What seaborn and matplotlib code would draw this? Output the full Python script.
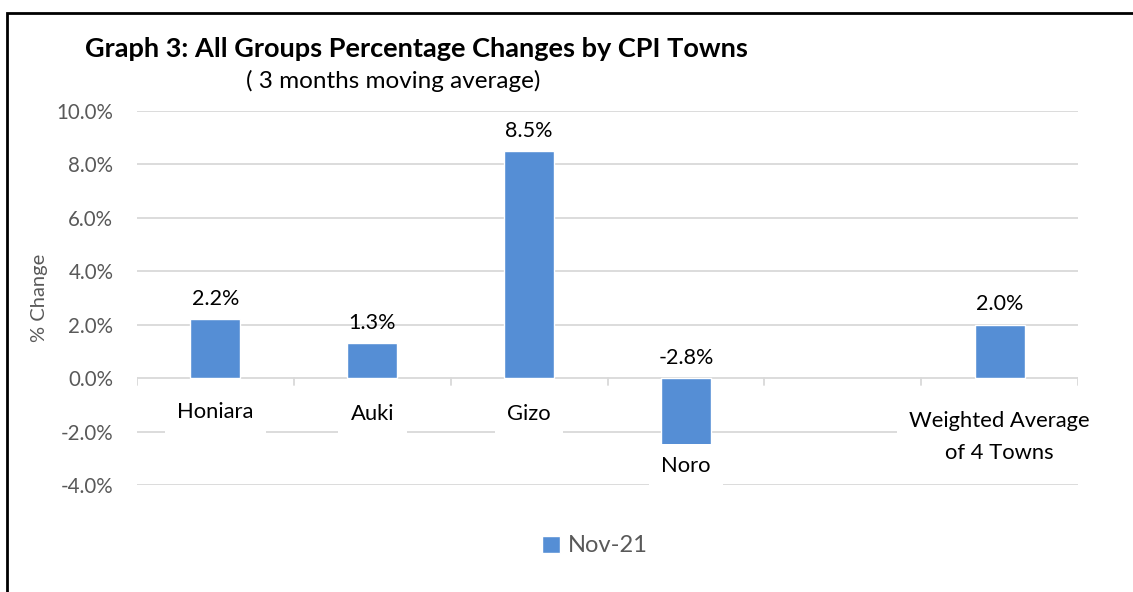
import matplotlib.pyplot as plt
import matplotlib.patches as mpatches
import seaborn as sns
import pandas as pd

towns = ["Honiara", "Auki", "Gizo", "Noro", "Weighted Average\nof 4 Towns"]
change = [2.2, 1.3, 8.5, -2.8, 2.0]
slots = ["Honiara", "Auki", "Gizo", "Noro", " ", "Weighted Average\nof 4 Towns"]
period = "Nov-21"
yticks = [-4, -2, 0, 2, 4, 6, 8, 10]

df = pd.DataFrame({"town": towns, "change": change, "period": period})

sns.set_style("white")
plt.rcParams['font.family'] = ['Lato', 'DejaVu Sans']

fig = plt.figure(figsize=(11.33, 5.92), dpi=100)
ax = fig.add_axes([0.1209, 0.1807, 0.8306, 0.6318])

sns.barplot(data=df, x="town", y="change", hue="period", order=slots,
            palette=["#558ED5"], saturation=1, width=0.32, ax=ax, zorder=2)

ax.set_ylim(-4, 10)
ax.set_xlim(-0.5, len(slots) - 0.5)
ax.set_yticks(yticks)
ax.set_yticklabels([f"{t:.1f}%" for t in yticks], fontsize=14.8, color="#595959")
ax.yaxis.grid(True, color="#D9D9D9", lw=1.3, zorder=0)
ax.set_axisbelow(True)
for s in ax.spines.values():
    s.set_visible(False)
ax.tick_params(axis="y", length=0, pad=17)

# category boundary ticks on the zero line
ax.set_xticks([])
for i in range(len(slots) + 1):
    ax.plot([i - 0.5, i - 0.5], [0, -0.27], color="#D9D9D9", lw=1.3, zorder=1)

ax.set_xlabel("")
ax.set_ylabel("% Change", fontsize=14.5, color="#595959", labelpad=6)

# data labels
for i, v in enumerate(change):
    x = slots.index(towns[i])
    ax.text(x, max(v, 0) + 0.77, f"{v:.1f}%", ha="center", va="center",
            fontsize=15.5, color="black", zorder=4)

# category labels in white boxes
label_y = {"Honiara": -1.25, "Auki": -1.35, "Gizo": -1.35, "Noro": -3.3,
           "Weighted Average\nof 4 Towns": -2.2}
for name in towns:
    x = slots.index(name)
    ax.text(x, label_y[name], name, ha="center", va="center", fontsize=15.8,
            color="black", linespacing=1.75, zorder=5,
            bbox=dict(facecolor="white", edgecolor="none", pad=9))

fig.text(0.075, 0.918, "Graph 3: All Groups Percentage Changes by CPI Towns",
         fontsize=19.5, fontweight="bold", color="black", va="center")
fig.text(0.347, 0.864, "( 3 months moving average)", fontsize=17.5,
         color="black", ha="center", va="center")

leg = ax.legend(loc="center", bbox_to_anchor=(0.525, 1 - 546 / 592),
                bbox_transform=fig.transFigure, frameon=False, fontsize=17,
                handlelength=0.75, handleheight=0.75, handletextpad=0.35)
for t in leg.get_texts():
    t.set_color("#595959")

# outer border (left and top only visible)
fig.patches.append(mpatches.Rectangle((7 / 1133, -0.1), 1.2, 1 - 13 / 592 + 0.1,
                                      transform=fig.transFigure, fill=False,
                                      edgecolor="black", lw=2))

fig.savefig("out.png", dpi=100)
